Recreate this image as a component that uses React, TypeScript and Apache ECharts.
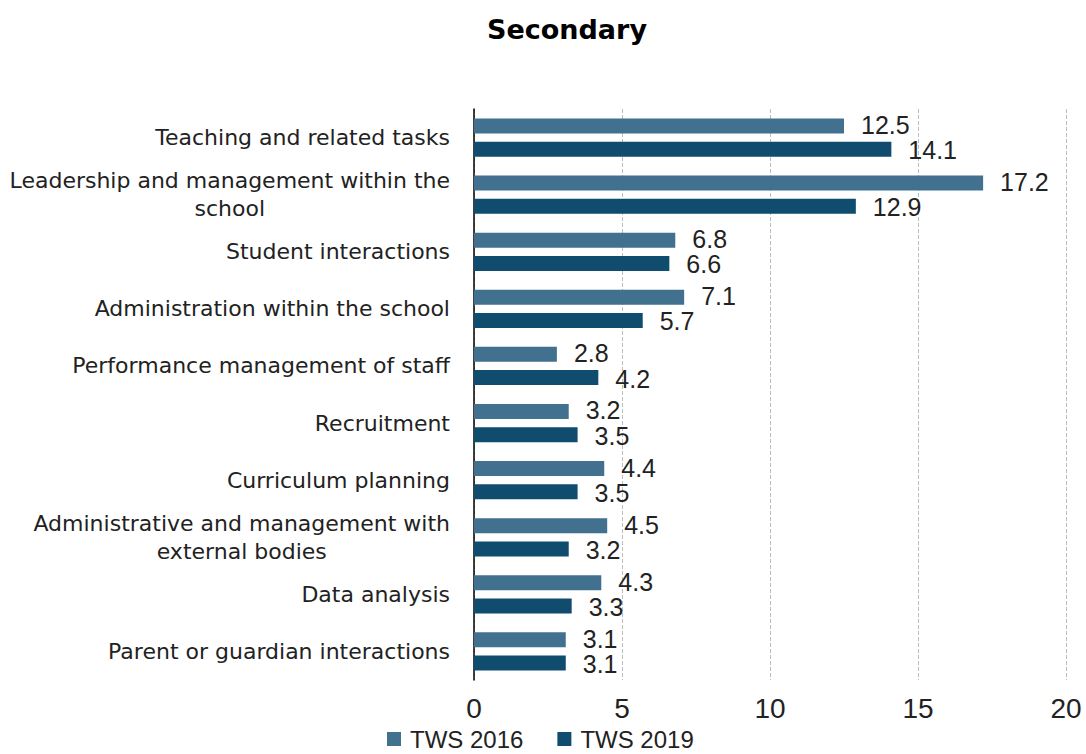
import React, { useEffect, useRef } from "react";
import * as echarts from "echarts";

const categories = [
  "Teaching and related tasks",
  "Leadership and management within the school",
  "Student interactions",
  "Administration within the school",
  "Performance management of staff",
  "Recruitment",
  "Curriculum planning",
  "Administrative and management with external bodies",
  "Data analysis",
  "Parent or guardian interactions",
];
const tws2016 = [12.5, 17.2, 6.8, 7.1, 2.8, 3.2, 4.4, 4.5, 4.3, 3.1];
const tws2019 = [14.1, 12.9, 6.6, 5.7, 4.2, 3.5, 3.5, 3.2, 3.3, 3.1];
const xTicks = [0, 5, 10, 15, 20];

const wrapped: Record<string, string[]> = {
  "Leadership and management within the school": ["Leadership and management within the", "school"],
  "Administrative and management with external bodies": ["Administrative and management with", "external bodies"],
};

const CAT_FONT = "DejaVu Sans, Liberation Sans, Arial, sans-serif";
const FONT = "Liberation Sans, Arial, sans-serif";

export default function App() {
  const ref = useRef<HTMLDivElement>(null);
  useEffect(() => {
    if (!ref.current) return;
    const chart = echarts.init(ref.current, undefined, { renderer: "svg" });
    const catStyle = { fontSize: 22, color: "#222", fontFamily: CAT_FONT, lineHeight: 28 };
    chart.setOption({
      animation: false,
      textStyle: { fontFamily: FONT },
      title: {
        text: "Secondary",
        left: 562,
        top: 11,
        textAlign: "center",
        textStyle: { fontSize: 27, fontWeight: "bold", color: "#000", fontFamily: CAT_FONT },
      },
      legend: {
        top: 721,
        left: 382,
        itemWidth: 14,
        itemHeight: 14,
        itemGap: 34,
        icon: "rect",
        textStyle: { fontSize: 24, lineHeight: 26, color: "#222", fontFamily: FONT, padding: [0, 0, 0, 4] },
        data: ["TWS 2016", "TWS 2019"],
      },
      grid: { left: 474, right: 20, top: 109, bottom: 74, containLabel: false },
      xAxis: {
        type: "value",
        min: xTicks[0],
        max: xTicks[xTicks.length - 1],
        interval: 5,
        axisLine: { show: false },
        axisTick: { show: false },
        axisLabel: { fontSize: 28, color: "#222", margin: 14, fontFamily: FONT },
        splitLine: { show: true, lineStyle: { type: "dashed", color: "#bdbdbd", width: 1 } },
      },
      yAxis: {
        type: "category",
        inverse: true,
        data: categories,
        axisLine: { show: true, lineStyle: { color: "#000", width: 1.5 } },
        axisTick: { show: false },
        axisLabel: {
          ...catStyle,
          margin: 24,
          formatter: (v: string) => {
            const w = wrapped[v];
            if (!w) return v;
            return w.map((line) => "{c|" + line + "}").join("\n");
          },
          rich: {
            c: { ...catStyle, align: "center" },
          },
        },
      },
      series: [
        {
          name: "TWS 2016",
          type: "bar",
          data: tws2016,
          barWidth: 15,
          barGap: "55%",
          itemStyle: { color: "#41718f" },
          label: {
            show: true,
            position: "right",
            distance: 17,
            offset: [0, -1],
            fontSize: 25,
            color: "#222",
            fontFamily: FONT,
          },
        },
        {
          name: "TWS 2019",
          type: "bar",
          data: tws2019,
          barWidth: 15,
          barGap: "55%",
          itemStyle: { color: "#0f4c6e" },
          label: {
            show: true,
            position: "right",
            distance: 17,
            offset: [0, 1],
            fontSize: 25,
            color: "#222",
            fontFamily: FONT,
          },
        },
      ],
    });
    return () => chart.dispose();
  }, []);
  return (
    <div
      ref={ref}
      style={{ position: "fixed", left: 0, top: 0, width: 1086, height: 754, background: "#fff" }}
    />
  );
}
